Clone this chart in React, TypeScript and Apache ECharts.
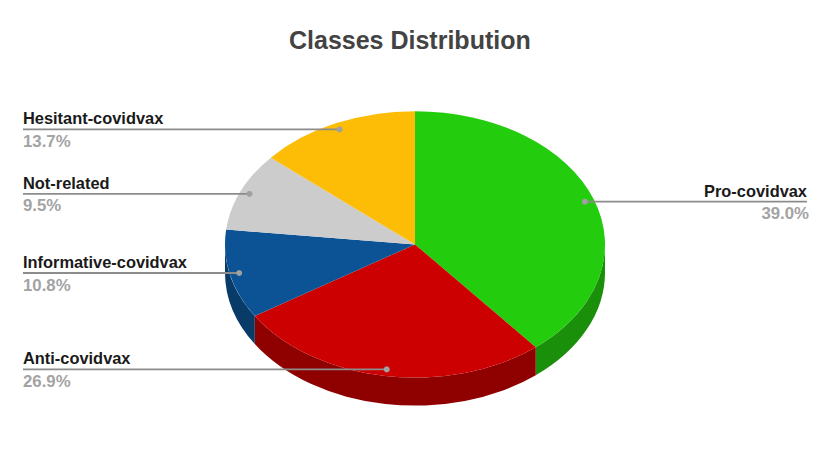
import React, { useEffect, useRef } from "react";
import * as echarts from "echarts";

const categories = ["Pro-covidvax", "Anti-covidvax", "Informative-covidvax", "Not-related", "Hesitant-covidvax"];
const shares = [39.0, 26.9, 10.8, 9.5, 13.7];
const topColors = ["#24cc0e", "#cc0000", "#0b5394", "#cccccc", "#fdbc05"];
const wallColors = ["#1a8f0a", "#8f0000", "#083b68", "#8f8f8f", "#b18403"];
const labelSides = ["right", "left", "left", "left", "left"];

const CX = 415;
const CY = 244.4;
const RX = 190;
const RY = 133.2;
const DEPTH = 28;
const LEFT_X = 23;
const RIGHT_X = 807;
const LABEL_FONT = "Liberation Sans";

const total = shares.reduce((a, b) => a + b, 0);

function pt(deg: number, f = 1, dy = 0): [number, number] {
  const r = (deg * Math.PI) / 180;
  return [CX + f * RX * Math.sin(r), CY - f * RY * Math.cos(r) + dy];
}

function facePath(a: number, b: number) {
  const [x0, y0] = pt(a);
  const [x1, y1] = pt(b);
  const large = b - a > 180 ? 1 : 0;
  return `M${CX} ${CY}L${x0} ${y0}A${RX} ${RY} 0 ${large} 1 ${x1} ${y1}Z`;
}

function wallPath(a: number, b: number) {
  const s = Math.max(a, 90);
  const e = Math.min(b, 270);
  if (e <= s) return null;
  const [x0, y0] = pt(s);
  const [x1, y1] = pt(e);
  return `M${x0} ${y0}A${RX} ${RY} 0 0 1 ${x1} ${y1}L${x1} ${y1 + DEPTH}A${RX} ${RY} 0 0 0 ${x0} ${y0 + DEPTH}Z`;
}

export default function App() {
  const ref = useRef<HTMLDivElement>(null);
  useEffect(() => {
    if (!ref.current) return;
    const chart = echarts.init(ref.current, null, { renderer: "svg" });
    const renderItem = (params: any, api: any) => {
      const i = params.dataIndex;
      const before = shares.slice(0, i).reduce((a, b) => a + b, 0);
      const a = (before / total) * 360;
      const b = a + (api.value(0) / total) * 360;
      const mid = (a + b) / 2;
      const [dx, dy] = pt(mid, 0.95);
      const side = labelSides[i];
      const endX = side === "left" ? LEFT_X : RIGHT_X;
      const children: any[] = [];
      const wall = wallPath(a, b);
      if (wall) {
        children.push({ type: "path", z2: 1, shape: { pathData: wall }, style: { fill: wallColors[i] } });
      }
      children.push({ type: "path", z2: 2, shape: { pathData: facePath(a, b) }, style: { fill: topColors[i] } });
      children.push({
        type: "line",
        z2: 10,
        shape: { x1: endX, y1: dy, x2: dx, y2: dy },
        style: { stroke: "#8c8c8c", lineWidth: 1.8 },
      });
      children.push({ type: "circle", z2: 11, shape: { cx: dx, cy: dy, r: 3 }, style: { fill: "#a0a0a0" } });
      children.push({
        type: "text",
        z2: 12,
        style: {
          x: endX,
          y: dy - 3,
          text: categories[i],
          fill: "#1a1a1a",
          font: `bold 16.4px "${LABEL_FONT}"`,
          textAlign: side === "left" ? "left" : "right",
          textVerticalAlign: "bottom",
        },
      });
      children.push({
        type: "text",
        z2: 12,
        style: {
          x: endX + (side === "left" ? 0 : 2),
          y: dy + 3.5,
          text: `${shares[i].toFixed(1)}%`,
          fill: "#a3a3a3",
          font: `bold 16.8px "${LABEL_FONT}"`,
          textAlign: side === "left" ? "left" : "right",
          textVerticalAlign: "top",
        },
      });
      return { type: "group", children };
    };
    chart.setOption({
      animation: false,
      backgroundColor: "#ffffff",
      title: {
        text: "Classes Distribution",
        left: 289,
        top: 27,
        padding: 0,
        textStyle: { fontFamily: LABEL_FONT, fontSize: 25, fontWeight: "bold", color: "#434343" },
      },
      series: [
        {
          type: "custom",
          coordinateSystem: "none",
          silent: true,
          renderItem,
          data: shares.map((v) => [v]),
        },
      ],
    });
    return () => chart.dispose();
  }, []);
  return <div ref={ref} style={{ position: "absolute", left: 0, top: 0, width: 830, height: 472 }} />;
}
